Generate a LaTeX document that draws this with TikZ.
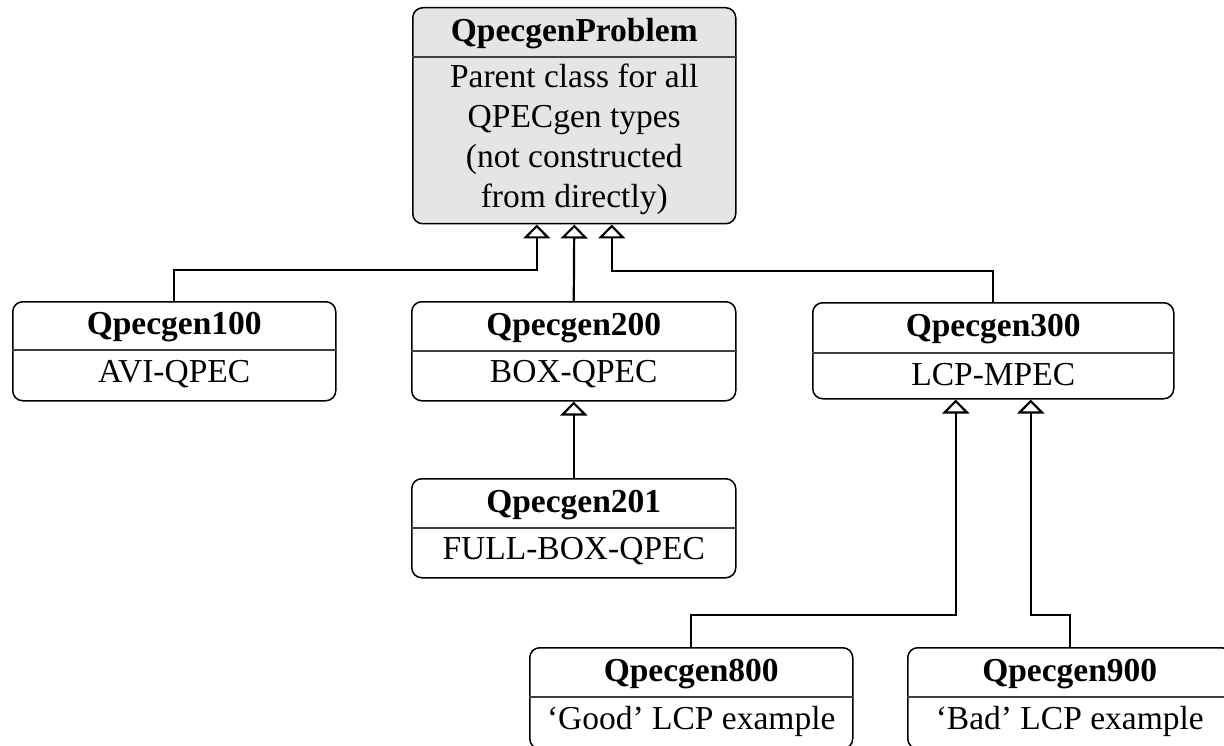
\documentclass[tikz,border=0pt]{standalone}
\usepackage{fontspec}
\setmainfont{Liberation Serif}
\usetikzlibrary{arrows.meta,calc}
\tikzset{
  classbox/.style={draw, line width=1.5pt, rounded corners=10pt, inner sep=0pt, anchor=north west},
  divider/.style={line width=1.1pt, draw=black!75},
  titletext/.style={font=\fontsize{33.5}{39}\selectfont\bfseries, inner sep=0pt},
  bodytext/.style={font=\fontsize{33.5}{40}\selectfont, align=center, inner sep=0pt},
  inherit/.style={line width=2.2pt, -{Triangle[width=27pt, length=14pt, fill=white, line width=2.2pt]}}
}
% #1 name, #2 x-left, #3 y-top, #4 width, #5 height, #6 divider offset, #7 title, #8 body, #9 fill
\newcommand\umlclass[9]{%
  \node[classbox, minimum width=#4pt, minimum height=#5pt, fill=#9] (#1) at (#2pt,-#3pt) {};
  \draw[divider] ($(#1.north west)+(0,-#6pt)$) -- ($(#1.north east)+(0,-#6pt)$);
  \node[titletext] (#1-t) at ($(#1.north)+(0,-#6pt/2-2pt)$) {#7};
  \node[bodytext] (#1-b) at ($(#1.north)+(0,-#5pt/2-#6pt/2+1pt)$) {#8};
}
\begin{document}
\begin{tikzpicture}[x=1pt,y=1pt]
\useasboundingbox (0,0) rectangle (1224,-746);
\umlclass{top}{412}{7}{323}{216}{50}{QpecgenProblem}{Parent class for all\\QPECgen types\\(not constructed\\from directly)}{black!10}
\umlclass{b100}{12}{301}{323}{99}{49}{Qpecgen100}{AVI-QPEC}{white}
\umlclass{b200}{411}{301}{324}{99}{50}{Qpecgen200}{BOX-QPEC}{white}
\umlclass{b300}{812}{302}{361}{96}{51}{Qpecgen300}{LCP-MPEC}{white}
\umlclass{b201}{411}{478}{324}{99}{50}{Qpecgen201}{FULL-BOX-QPEC}{white}
\umlclass{b800}{529}{647}{323}{101}{50}{Qpecgen800}{`Good' LCP example}{white}
\umlclass{b900}{907}{647}{324}{101}{50}{Qpecgen900}{`Bad' LCP example}{white}

\coordinate (p1) at ($(top.south)+(-37.5,0)$);
\coordinate (p2) at (top.south);
\coordinate (p3) at ($(top.south)+(37.5,0)$);
\coordinate (q1) at ($(b300.south)+(-37.5,0)$);
\coordinate (q2) at ($(b300.south)+(37.5,0)$);

\draw[inherit] (b100.north) -- ++(0,31) -| (p1);
\draw[inherit] (b200.north) -- (p2);
\draw[inherit] (b300.north) -- ++(0,31) -| (p3);
\draw[inherit] (b201.north) -- (b200.south);
\draw[inherit] (b800.north) -- ++(0,32) -| (q1);
\draw[inherit] (b900.north) -- ++(0,32) -| (q2);
\end{tikzpicture}
\end{document}
